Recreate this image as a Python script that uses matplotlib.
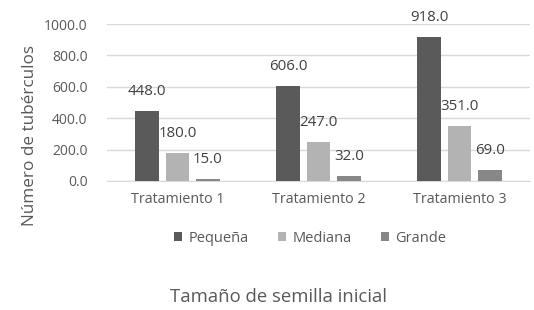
import matplotlib
matplotlib.use("Agg")
import matplotlib.pyplot as plt
import numpy as np

categories = ["Tratamiento 1", "Tratamiento 2", "Tratamiento 3"]
series_names = ["Pequeña", "Mediana", "Grande"]
pequena = [448.0, 606.0, 918.0]
mediana = [180.0, 247.0, 351.0]
grande = [15.0, 32.0, 69.0]
yticks = [0, 200, 400, 600, 800, 1000]
colors = ["#5a5a5a", "#b3b3b3", "#878787"]
txt = "#595959"

plt.rcParams['font.family'] = ['Open Sans', 'DejaVu Sans']

fig = plt.figure(figsize=(5.34, 3.10), dpi=100)
ax = fig.add_axes([107/534, 1-181/310, 423/534, 157/310])

x = np.arange(len(categories))
w = 0.17
step = 0.215
for i, (vals, name, c) in enumerate(zip([pequena, mediana, grande], series_names, colors)):
    xs = x + (i - 1) * step
    ax.bar(xs, vals, width=w, color=c, label=name, zorder=3)
    for xv, v in zip(xs, vals):
        ax.annotate(f"{v:.1f}", (xv, v), xytext=(0, 14), textcoords="offset points",
                    ha="center", va="center", fontsize=10.8, color="#404040")

ax.set_xlim(-0.5, 2.5)
ax.set_ylim(0, 1000)
ax.set_yticks(yticks)
ax.set_yticklabels([f"{t:.1f}" for t in yticks], fontsize=10, color=txt)
ax.set_xticks(x)
ax.set_xticklabels(categories, fontsize=10.3, color=txt)
ax.tick_params(axis="both", length=0)
ax.tick_params(axis="y", pad=14)
ax.tick_params(axis="x", pad=8)
ax.grid(axis="y", color="#d9d9d9", linewidth=1, zorder=0)
for s in ["top", "right", "left"]:
    ax.spines[s].set_visible(False)
ax.spines["bottom"].set_color("#d9d9d9")

fig.text(30/534, 1-135/310, "Número de tubérculos", rotation=90, ha="center", va="center",
         fontsize=12.3, color=txt)
fig.text(278/534, 1-297/310, "Tamaño de semilla inicial", ha="center", va="center",
         fontsize=13.3, color=txt)

leg = fig.legend(loc="center", bbox_to_anchor=(310/534, 1-238/310), ncol=3, frameon=False,
                 fontsize=10.5, handlelength=0.6, handleheight=0.6, handletextpad=0.4,
                 columnspacing=2.0, labelcolor=txt)

fig.savefig("out.png", dpi=100)
